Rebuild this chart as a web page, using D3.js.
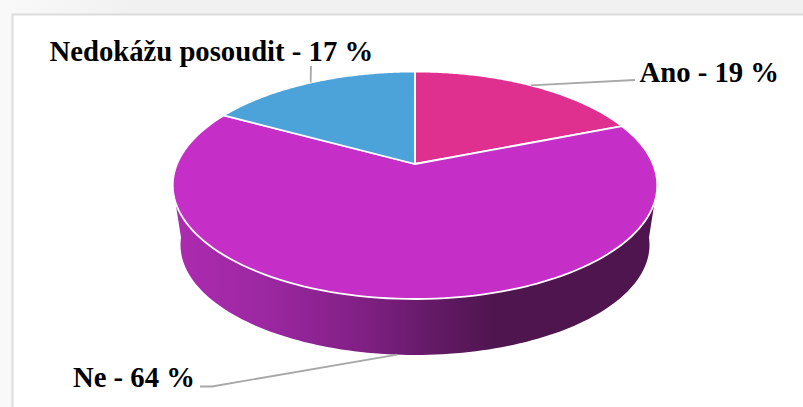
<!DOCTYPE html>
<html><head><meta charset="utf-8">
<style>html,body{margin:0;padding:0;background:#fff;overflow:hidden}svg{display:block}</style>
<script src="https://cdn.jsdelivr.net/npm/d3@7"></script></head><body>
<svg id="c" width="803" height="407"></svg>
<script>
const categories = ["Ano", "Ne", "Nedokážu posoudit"];
const values = [19, 64, 17];
const colors = ["#e0308f", "#c52fc7", "#4ca3da"];
const labels = ["Ano - 19 %", "Ne - 64 %", "Nedokážu posoudit - 17 %"];

const svg = d3.select("#c");
const W = 803, H = 407;
const defs = svg.append("defs");

// page + panel
const bg = defs.append("linearGradient").attr("id", "page")
  .attr("gradientUnits", "userSpaceOnUse").attr("x1", 0).attr("x2", 130).attr("y1", 0).attr("y2", 0);
bg.append("stop").attr("offset", 0).attr("stop-color", "#f9f9f9");
bg.append("stop").attr("offset", 1).attr("stop-color", "#f1f1f1");
svg.append("rect").attr("width", W).attr("height", H).attr("fill", "url(#page)");
svg.append("rect").attr("x", 12.5).attr("y", 14.5).attr("width", W).attr("height", H)
  .attr("fill", "#fff").attr("stroke", "#dcdcdc").attr("stroke-width", 2);

// perspective projection of the pie disc
const cx = 415, apexY = 164, k = 0.1868, radX = 238, radY = 109.8;
const wallDrop = 60.3, wallScale = 0.968;
const project = (a, r = 1, drop = 0, s = 1) => {
  const u = Math.sin(a) * r, v = Math.cos(a) * r, w = 1 + k * v;
  return [cx + s * radX * u / w, apexY + drop - s * radY * v / w];
};

const arcs = d3.pie().sort(null).value(d => d)(values);
const line = d3.line();
const steps = a => d3.range(0, 121).map(i => a[0] + (a[1] - a[0]) * i / 120);

// side wall (only the front of the largest slice shows)
const grad = defs.append("linearGradient").attr("id", "wall")
  .attr("gradientUnits", "userSpaceOnUse").attr("x1", 175).attr("x2", 657).attr("y1", 0).attr("y2", 0);
[[0, "#ad2bb0"], [0.2, "#9a27a0"], [0.4, "#7f1f82"], [0.5, "#6a1b6d"], [0.66, "#4f154f"], [1, "#4f154f"]]
  .forEach(s => grad.append("stop").attr("offset", s[0]).attr("stop-color", s[1]));
const a0 = 109 * Math.PI / 180, a1 = 2 * Math.PI - a0;
const b0 = 97 * Math.PI / 180, b1 = 2 * Math.PI - b0;
const wallPts = steps([a0, a1]).map(a => project(a))
  .concat(steps([b1, b0]).map(a => project(a, 1, wallDrop, wallScale)));
svg.append("path").attr("d", line(wallPts) + "Z").attr("fill", "url(#wall)");

// top faces
arcs.forEach((d, i) => {
  const pts = [project(0, 0)].concat(steps([d.startAngle, d.endAngle]).map(a => project(a)));
  svg.append("path").attr("d", line(pts) + "Z").attr("fill", colors[i])
    .attr("stroke", "#fff").attr("stroke-width", 1.8).attr("stroke-linejoin", "round");
});

// leader lines, anchored on each slice's mid-angle
const mid = d => (d.startAngle + d.endAngle) / 2;
const leaders = [
  [project(mid(arcs[0])), [635, 80]],
  [project(mid(arcs[1]), 1, wallDrop, wallScale), [212, 386.5], [200, 386.5]],
  [project(mid(arcs[2])), [311, 66]]
];
leaders.forEach(p => svg.append("path").attr("d", line(p)).attr("fill", "none")
  .attr("stroke", "#a8a8a8").attr("stroke-width", 1.8));

// labels
const labelPos = [[639.5, 82], [73, 387], [49.5, 61]];
labels.forEach((t, i) => svg.append("text").attr("x", labelPos[i][0]).attr("y", labelPos[i][1])
  .attr("font-family", "'Liberation Serif'").attr("font-weight", "bold").attr("font-size", 28.7)
  .attr("fill", "#000").text(t));
</script></body></html>
